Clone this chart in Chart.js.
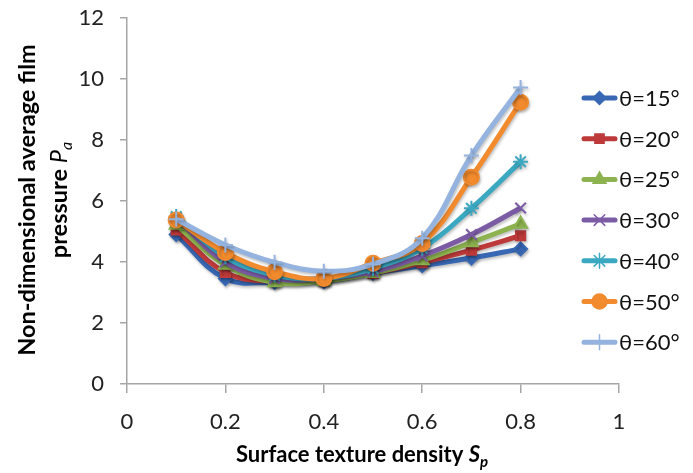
<!DOCTYPE html>
<html>
<head>
<meta charset="utf-8">
<script src="https://cdn.jsdelivr.net/npm/chart.js@4/dist/chart.umd.min.js"></script>
<style>
  html, body { margin: 0; padding: 0; background: #fff; }
  #wrap { width: 693px; height: 473px; position: relative; }
</style>
</head>
<body>
<div id="wrap"><canvas id="grafico"></canvas></div>
<script>
// densidad de textura Sp (eje x)
const densidad = [0.1, 0.2, 0.3, 0.4, 0.5, 0.6, 0.7, 0.8];

// presion media adimensional Pa por angulo
const theta15 = [4.90, 3.46, 3.33, 3.36, 3.63, 3.88, 4.13, 4.43];
const theta20 = [5.05, 3.66, 3.36, 3.40, 3.63, 3.98, 4.39, 4.86];
const theta25 = [5.21, 3.90, 3.33, 3.38, 3.63, 4.05, 4.64, 5.25];
const theta30 = [5.45, 4.00, 3.46, 3.46, 3.68, 4.20, 4.90, 5.77];
const theta40 = [5.49, 4.17, 3.57, 3.46, 3.79, 4.45, 5.76, 7.29];
const theta50 = [5.38, 4.31, 3.68, 3.46, 3.96, 4.61, 6.78, 9.24];
const theta60 = [5.40, 4.56, 3.99, 3.70, 3.93, 4.78, 7.49, 9.72];

const etiquetas = ['θ=15°', 'θ=20°', 'θ=25°', 'θ=30°', 'θ=40°', 'θ=50°', 'θ=60°'];
const series = [theta15, theta20, theta25, theta30, theta40, theta50, theta60];
const colores = ['#3868B4', '#BE3A3A', '#8DB350', '#7B5BA4', '#3AA8C1', '#F28A2E', '#94B3DE'];
const marcadores = ['rectRot', 'rect', 'triangle', 'crossRot', 'star', 'circle', 'cross'];
const radios = [6.5, 6.5, 7.5, 7.5, 7.5, 7.5, 7.5];

const ticksX = [0, 0.2, 0.4, 0.6, 0.8, 1];
const ticksY = [0, 2, 4, 6, 8, 10, 12];

const fuenteTick = { family: 'Lato', size: 22 };

// texto con partes en cursiva / subindice
function textoRico(ctx, partes, x, y) {
    let total = 0;
    partes.forEach(p => { ctx.font = p.font; total += ctx.measureText(p.t).width; });
    let cx = x - total / 2;
    partes.forEach(p => {
        ctx.font = p.font;
        ctx.fillText(p.t, cx, y + (p.dy || 0));
        cx += ctx.measureText(p.t).width;
    });
}

const extras = {
    id: 'extras',
    beforeDatasetsDraw(chart) {
        const ctx = chart.ctx;
        ctx.save();
        ctx.shadowColor = 'rgba(0,0,0,0.25)';
        ctx.shadowBlur = 3;
        ctx.shadowOffsetX = 1;
        ctx.shadowOffsetY = 2;
    },
    afterDatasetsDraw(chart) {
        chart.ctx.restore();
    },
    afterDraw(chart) {
        const ctx = chart.ctx;
        ctx.save();
        ctx.fillStyle = '#000';
        ctx.textBaseline = 'alphabetic';

        // titulo eje x
        textoRico(ctx, [
            { t: 'Surface texture density ', font: 'bold 22px Lato' },
            { t: 'S', font: 'bold italic 22px Lato' },
            { t: 'p', font: 'bold italic 15px Lato', dy: 5 }
        ], 362, 462);

        // titulo eje y (dos lineas, rotado)
        ctx.save();
        ctx.rotate(-Math.PI / 2);
        textoRico(ctx, [{ t: 'Non-dimensional average film', font: 'bold 23.5px Lato' }], -200, 35);
        textoRico(ctx, [
            { t: 'pressure ', font: 'bold 23.5px Lato' },
            { t: 'P', font: 'italic 23.5px Lato' },
            { t: 'a', font: 'italic 16px Lato', dy: 5 }
        ], -200, 67);
        ctx.restore();

        // leyenda
        ctx.font = '22px Lato';
        ctx.textBaseline = 'middle';
        etiquetas.forEach((et, i) => {
            const y = 98 + i * 40.7;
            ctx.strokeStyle = colores[i];
            ctx.fillStyle = colores[i];
            ctx.lineWidth = 5;
            ctx.lineCap = 'round';
            ctx.beginPath();
            ctx.moveTo(584, y);
            ctx.lineTo(615, y);
            ctx.stroke();
            ctx.lineWidth = 1.5;
            Chart.helpers.drawPoint(ctx, { pointStyle: marcadores[i], radius: radios[i], rotation: 0, borderWidth: 1.5 }, 599.5, y);
            ctx.fillStyle = '#111';
            ctx.fillText(et, 619, y + 1);
        });
        ctx.restore();
    }
};

new Chart(document.getElementById('grafico'), {
    type: 'line',
    data: {
        datasets: series.map((s, i) => ({
            label: etiquetas[i],
            data: s.map((v, j) => ({ x: densidad[j], y: v })),
            borderColor: colores[i],
            backgroundColor: colores[i],
            borderWidth: 5,
            tension: 0.4,
            pointStyle: marcadores[i],
            pointRadius: radios[i],
            pointBorderWidth: 2,
            order: series.length - i
        }))
    },
    options: {
        responsive: true,
        maintainAspectRatio: false,
        animation: false,
        layout: { padding: { top: 18, right: 74, left: 0, bottom: 0 } },
        plugins: { legend: { display: false }, tooltip: { enabled: false } },
        scales: {
            x: {
                type: 'linear',
                min: 0,
                max: 1,
                afterBuildTicks: s => { s.ticks = ticksX.map(v => ({ value: v })); },
                afterFit: s => { s.height = 89; s.paddingLeft = 0; s.paddingRight = 0; },
                ticks: { font: fuenteTick, color: '#222', padding: 16, maxRotation: 0, callback: v => String(+v.toFixed(1)) },
                grid: { drawOnChartArea: false, tickLength: 9, color: '#a6a6a6', lineWidth: 1.5 },
                border: { color: '#a6a6a6', width: 1.5 }
            },
            y: {
                min: 0,
                max: 12,
                afterBuildTicks: s => { s.ticks = ticksY.map(v => ({ value: v })); },
                afterFit: s => { s.width = 127; s.paddingTop = 0; s.paddingBottom = 0; },
                ticks: { font: fuenteTick, color: '#222', padding: 16 },
                grid: { drawOnChartArea: false, tickLength: 7, color: '#a6a6a6', lineWidth: 1.5 },
                border: { color: '#a6a6a6', width: 1.5 }
            }
        }
    },
    plugins: [extras]
});
</script>
</body>
</html>
